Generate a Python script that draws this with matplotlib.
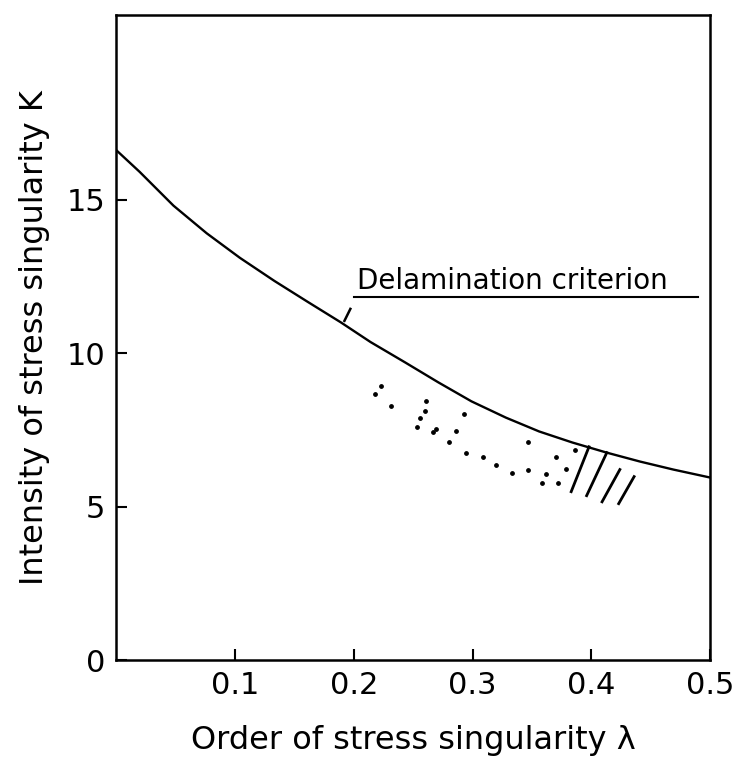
import matplotlib.pyplot as plt

# criterion curve K(lambda)
lam = [0.0, 0.0195, 0.048, 0.076, 0.104, 0.133, 0.161, 0.189, 0.214,
       0.243, 0.271, 0.299, 0.328, 0.356, 0.384, 0.413, 0.441, 0.469, 0.5]
K = [16.6, 15.9, 14.8, 13.9, 13.1, 12.35, 11.67, 11.0, 10.36,
     9.7, 9.05, 8.43, 7.9, 7.45, 7.09, 6.76, 6.47, 6.21, 5.95]

# scattered dots below the curve
dot_lam = [0.218, 0.223, 0.231, 0.261, 0.260, 0.256, 0.253, 0.269, 0.267, 0.280,
           0.286, 0.293, 0.294, 0.309, 0.320, 0.333, 0.347, 0.347, 0.358, 0.362,
           0.370, 0.372, 0.379, 0.386]
dot_K = [8.66, 8.92, 8.27, 8.43, 8.10, 7.88, 7.58, 7.52, 7.42, 7.12,
         7.48, 8.01, 6.76, 6.63, 6.37, 6.11, 7.12, 6.21, 5.78, 6.08,
         6.63, 5.78, 6.24, 6.86]

# hatch strokes (top lambda, top K, bottom lambda, bottom K)
hatch_top_lam = [0.398, 0.413, 0.424, 0.436]
hatch_top_K = [6.95, 6.76, 6.21, 5.98]
hatch_bot_lam = [0.383, 0.396, 0.409, 0.423]
hatch_bot_K = [5.49, 5.36, 5.16, 5.10]

xticks = [0.1, 0.2, 0.3, 0.4, 0.5]
yticks = [0, 5, 10, 15]

fig = plt.figure(figsize=(7.42, 7.59), dpi=100)
ax = fig.add_axes([0.157, 0.130, 0.800, 0.850])

ax.plot(lam, K, color='black', lw=1.7)
ax.scatter(dot_lam, dot_K, s=6, color='black')
for x0, y0, x1, y1 in zip(hatch_top_lam, hatch_top_K, hatch_bot_lam, hatch_bot_K):
    ax.plot([x0, x1], [y0, y1], color='black', lw=2)

# label with underline and small pointer
ax.text(0.203, 12.1, "Delamination criterion", fontsize=20, ha='left', va='baseline')
ax.plot([0.20, 0.49], [11.83, 11.83], color='black', lw=1.5)
ax.plot([0.197, 0.192], [11.44, 11.05], color='black', lw=1.8)

ax.set_xlim(0, 0.5)
ax.set_ylim(0, 21.0)
ax.set_xticks(xticks)
ax.set_xticklabels(["0.1", "0.2", "0.3", "0.4", "0.5"])
ax.set_yticks(yticks)
ax.tick_params(direction='in', length=8, width=1.5, labelsize=22, pad=8)
for s in ax.spines.values():
    s.set_linewidth(1.8)

ax.set_xlabel("Order of stress singularity λ", fontsize=23, labelpad=18)
ax.set_ylabel("Intensity of stress singularity K", fontsize=23, labelpad=12)

fig.savefig("out.png", dpi=100)
